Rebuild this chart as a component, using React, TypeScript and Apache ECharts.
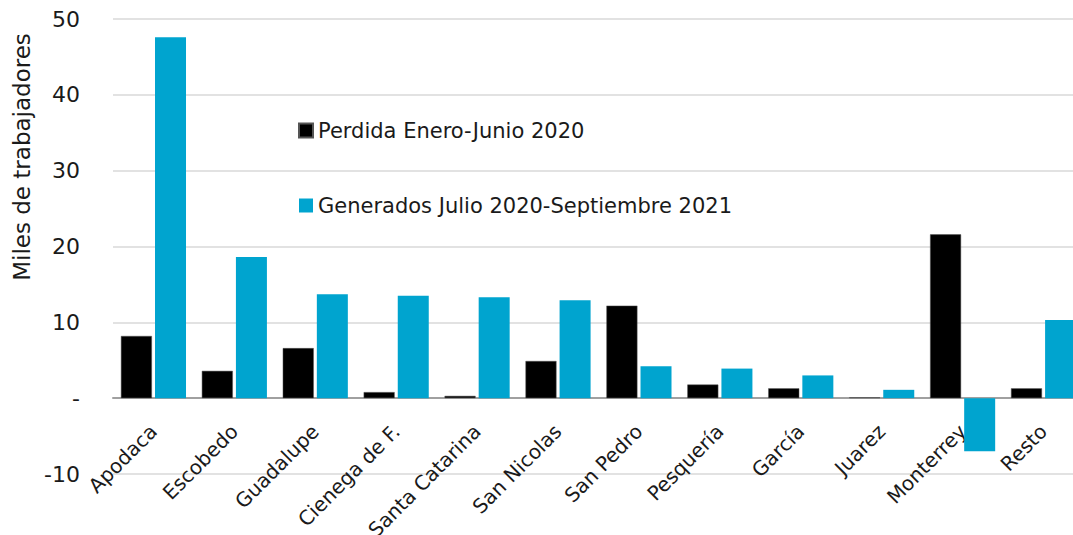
import React, { useEffect, useRef } from "react";
import * as echarts from "echarts";

const categories = [
  "Apodaca",
  "Escobedo",
  "Guadalupe",
  "Cienega de F.",
  "Santa Catarina",
  "San Nicolas",
  "San Pedro",
  "Pesquería",
  "García",
  "Juarez",
  "Monterrey",
  "Resto",
];
const perdida = [8.2, 3.6, 6.6, 0.8, 0.3, 4.9, 12.2, 1.8, 1.3, 0.1, 21.6, 1.3];
const generados = [47.6, 18.6, 13.7, 13.5, 13.3, 12.9, 4.2, 3.9, 3.0, 1.1, -7.0, 10.3];
const seriesNames = ["Perdida Enero-Junio 2020", "Generados Julio 2020-Septiembre 2021"];
const yAxisTitle = "Miles de trabajadores";

const FONT = "DejaVu Sans";

export default function App() {
  const ref = useRef<HTMLDivElement>(null);
  useEffect(() => {
    if (!ref.current) return;
    const chart = echarts.init(ref.current, undefined, { renderer: "svg" });
    chart.setOption({
      animation: false,
      backgroundColor: "#ffffff",
      textStyle: { fontFamily: FONT },
      grid: {
        left: 113,
        top: 19,
        width: 971,
        height: 455,
        containLabel: false,
        outerBoundsMode: "none",
      },
      legend: {
        orient: "vertical",
        left: 293,
        top: 115,
        itemGap: 54,
        itemWidth: 14,
        itemHeight: 14,
        icon: "rect",
        textStyle: { fontFamily: FONT, fontSize: 21, color: "#1a1a1a" },
        data: seriesNames,
      },
      xAxis: {
        type: "category",
        data: categories,
        axisLine: { onZero: true, lineStyle: { color: "#a0a0a0", width: 2 } },
        axisTick: { show: false },
        axisLabel: {
          interval: 0,
          rotate: 45,
          margin: -46,
          fontFamily: FONT,
          fontSize: 20,
          color: "#1a1a1a",
        },
      },
      yAxis: {
        type: "value",
        min: -10,
        max: 50,
        interval: 10,
        axisLine: { show: false },
        axisTick: { show: false },
        splitLine: { lineStyle: { color: "#d9d9d9", width: 1.5 } },
        axisLabel: {
          margin: 33,
          fontFamily: FONT,
          fontSize: 22,
          color: "#1a1a1a",
          formatter: (v: number) => (v === 0 ? "-" : String(v)),
        },
      },
      graphic: [
        {
          type: "text",
          x: 22,
          y: 157,
          rotation: Math.PI / 2,
          style: {
            text: yAxisTitle,
            fontFamily: FONT,
            fontSize: 23,
            fill: "#1a1a1a",
            textAlign: "center",
            textVerticalAlign: "middle",
          },
        },
      ],
      series: [
        {
          name: seriesNames[0],
          type: "bar",
          data: perdida,
          barWidth: 31,
          barGap: "10%",
          itemStyle: { color: "#000000", borderColor: "#555555", borderWidth: 0.5 },
        },
        {
          name: seriesNames[1],
          type: "bar",
          data: generados,
          barWidth: 31,
          barGap: "10%",
          itemStyle: { color: "#00A4CF" },
        },
      ],
    });
    return () => chart.dispose();
  }, []);
  return (
    <div
      ref={ref}
      style={{ position: "fixed", left: 0, top: 0, width: 1073, height: 535, background: "#fff" }}
    />
  );
}
